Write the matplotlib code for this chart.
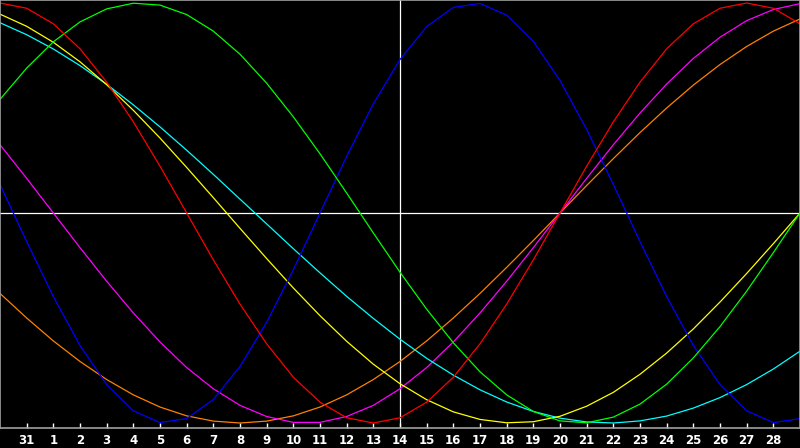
import matplotlib
matplotlib.use("Agg")
import matplotlib.pyplot as plt

# day positions (index -1 .. 29); index 0 is the 31st of previous month
days = list(range(-1, 30))
tick_pos = list(range(0, 29))
tick_labels = ["31"] + [str(d) for d in range(1, 29)]

red = [1.000, 0.975, 0.901, 0.782, 0.623, 0.434, 0.223, 0.000, -0.223, -0.434,
       -0.623, -0.782, -0.901, -0.975, -1.000, -0.975, -0.901, -0.782, -0.623, -0.434,
       -0.223, 0.000, 0.223, 0.434, 0.623, 0.782, 0.901, 0.975, 1.000, 0.975, 0.901]
green = [0.541, 0.690, 0.815, 0.910, 0.972, 0.999, 0.990, 0.945, 0.866, 0.756,
         0.618, 0.458, 0.282, 0.095, -0.095, -0.282, -0.458, -0.618, -0.756, -0.866,
         -0.945, -0.990, -0.999, -0.972, -0.910, -0.815, -0.690, -0.541, -0.372, -0.189, 0.000]
blue = [0.136, -0.136, -0.398, -0.631, -0.817, -0.942, -0.998, -0.979, -0.888, -0.731,
        -0.520, -0.270, 0.000, 0.270, 0.520, 0.731, 0.888, 0.979, 0.998, 0.942,
        0.817, 0.631, 0.398, 0.136, -0.136, -0.398, -0.631, -0.817, -0.942, -0.998, -0.979]
yellow = [0.947, 0.889, 0.813, 0.720, 0.611, 0.489, 0.357, 0.217, 0.073, -0.073,
          -0.217, -0.357, -0.489, -0.611, -0.720, -0.813, -0.889, -0.947, -0.983, -0.999,
          -0.994, -0.968, -0.920, -0.854, -0.768, -0.667, -0.552, -0.424, -0.288, -0.146, 0.000]
cyan = [0.906, 0.849, 0.781, 0.702, 0.613, 0.515, 0.410, 0.299, 0.184, 0.066,
        -0.052, -0.170, -0.285, -0.397, -0.502, -0.601, -0.692, -0.772, -0.842, -0.900,
        -0.945, -0.977, -0.995, -1.000, -0.990, -0.967, -0.929, -0.879, -0.817, -0.743, -0.658]
magenta = [0.325, 0.165, 0.000, -0.165, -0.325, -0.476, -0.614, -0.736, -0.837, -0.916,
           -0.969, -0.997, -0.997, -0.969, -0.916, -0.837, -0.736, -0.614, -0.476, -0.325,
           -0.165, 0.000, 0.165, 0.325, 0.476, 0.614, 0.736, 0.837, 0.916, 0.969, 0.997]
orange = [-0.383, -0.500, -0.609, -0.707, -0.793, -0.866, -0.924, -0.966, -0.991, -1.000,
          -0.991, -0.966, -0.924, -0.866, -0.793, -0.707, -0.609, -0.500, -0.383, -0.259,
          -0.131, 0.000, 0.131, 0.259, 0.383, 0.500, 0.609, 0.707, 0.793, 0.866, 0.924]

series = [
    (orange, "#FF8000"),
    (magenta, "#FF00FF"),
    (cyan, "#00FFFF"),
    (yellow, "#FFFF00"),
    (blue, "#0000FF"),
    (green, "#00FF00"),
    (red, "#FF0000"),
]

fig = plt.figure(figsize=(8.0, 4.48), dpi=100, facecolor="black")
ax = fig.add_axes([0, 20 / 448, 1, 428 / 448])
ax.set_facecolor("black")
ax.set_xlim(-1, 29)
ax.set_ylim(-215 / 210, 213 / 210)

ax.axhline(0, color="white", lw=0.9, zorder=1)
ax.axvline(14, color="white", lw=0.9, zorder=1)

for vals, col in series:
    ax.plot(days, vals, color=col, lw=0.9, zorder=2)

for side in ["left", "right", "top", "bottom"]:
    ax.spines[side].set_color("#A0A0A0")
    ax.spines[side].set_linewidth(1.2)

ax.set_xticks(tick_pos)
ax.set_xticklabels(tick_labels)
ax.set_yticks([])
ax.tick_params(axis="x", direction="in", length=3.6, width=1, color="white",
               labelcolor="white", labelsize=8.5, pad=4.5)
for lab in ax.get_xticklabels():
    lab.set_fontweight("bold")
    lab.set_family("DejaVu Sans")

fig.savefig("out.png", dpi=100, facecolor="black")
